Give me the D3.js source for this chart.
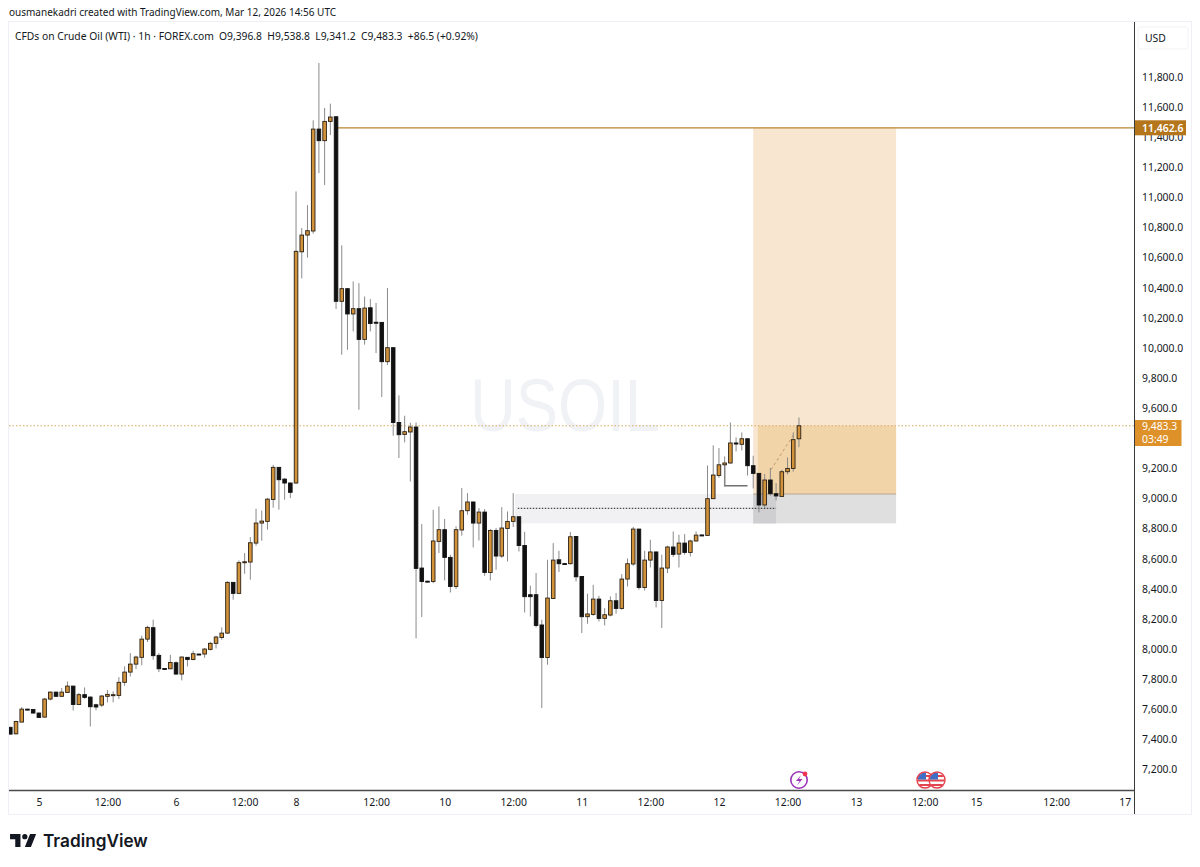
<!DOCTYPE html>
<html><head><meta charset="utf-8">
<script src="https://cdn.jsdelivr.net/npm/d3@7/dist/d3.min.js"></script>
<style>
html,body{margin:0;padding:0;background:#fff}
svg{display:block}
text{font-family:"Noto Sans","Open Sans",sans-serif;fill:#131722}
</style></head><body>
<svg id="c" width="1200" height="867"></svg>
<script>
const opens=[7480,7437,7515,7601,7599,7575,7548,7668,7714,7686,7712,7754,7632,7697,7681,7630,7628,7686,7695,7692,7779,7847,7900,7945,8066,8142,7958,7871,7869,7909,7834,7945,7931,7967,7967,7998,8038,8077,8106,8443,8370,8576,8578,8704,8837,8848,8994,9207,9129,9103,9103,10639,10750,10777,11454,11377,11505,11536,10310,10394,10226,10261,10057,10267,10171,10170,9909,10002,9505,9426,9442,9475,8538,8451,8449,8715,8793,8609,8416,8791,8919,8977,8837,8910,8509,8788,8618,8801,8848,8879,8688,8361,8361,8160,7944,8336,8593,8568,8567,8748,8482,8215,8230,8332,8204,8226,8321,8270,8465,8565,8797,8409,8591,8645,8323,8538,8678,8631,8704,8642,8718,8758,8755,8999,9153,9224,9236,9369,9360,9397,9218,9167,8957,9123,9032,9014,9178,9200,9396.8];
const highs=[7485,7524,7615,7603,7601,7579,7675,7719,7716,7741,7785,7756,7708,7745,7686,7637,7695,7728,7719,7814,7885,7973,7956,8089,8155,8195,7973,7873,7962,7918,7951,7947,7989,7969,8007,8049,8089,8144,8450,8445,8589,8638,8744,8932,8921,9003,9224,9209,9136,9107,11040,10797,10949,11512,11893,11594,11623,11538,10682,10396,10442,10431,10342,10325,10299,10172,10398,10004,9685,9550,9503,9505,8830,8453,8925,8947,8864,8627,8815,9070,9036,8979,8937,8930,8797,8804,8943,8914,9036,8881,8779,8421,8505,8195,8593,8704,8653,8570,8777,8750,8484,8368,8427,8354,8272,8350,8372,8498,8602,8811,8799,8653,8726,8647,8627,8686,8781,8759,8764,8726,8781,8760,9220,9353,9335,9280,9505,9406,9439,9399,9284,9169,9163,9203,9103,9191,9273,9439,9538.8];
const lows=[7435,7433,7515,7597,7573,7542,7544,7659,7684,7683,7710,7592,7630,7670,7486,7593,7615,7646,7646,7668,7756,7818,7867,7892,8047,7929,7847,7867,7867,7829,7792,7885,7925,7963,7942,7991,8004,8062,8102,8328,8365,8500,8461,8686,8720,8793,8939,8926,8992,9003,9098,10462,10600,10759,11162,11082,11414,10259,9955,9988,10110,9590,10022,10110,9966,9674,9887,9417,9269,9373,9113,8071,8213,8447,8438,8638,8456,8376,8399,8753,8892,8675,8721,8487,8456,8527,8605,8582,8811,8648,8243,8217,8144,7608,7896,8332,8512,8564,8563,8449,8106,8168,8221,8183,8157,8217,8235,8261,8416,8553,8394,8389,8542,8276,8140,8505,8611,8542,8627,8615,8713,8754,8753,8997,9138,9080,9231,9313,9319,9153,9067,8908,8937,9019,8987,9012,9160,9178,9341.2];
const closes=[7435,7519,7601,7599,7575,7546,7668,7714,7686,7714,7754,7632,7697,7679,7617,7615,7688,7699,7697,7779,7847,7900,7947,8066,8144,7956,7869,7869,7911,7834,7947,7931,7969,7965,8000,8038,8080,8106,8443,8370,8574,8580,8706,8837,8850,8996,9207,9125,9103,9041,10642,10750,10779,11454,11377,11505,11534,10310,10394,10226,10261,10057,10265,10163,10168,9909,10002,9505,9424,9444,9475,8536,8449,8449,8718,8793,8609,8416,8793,8919,8977,8837,8910,8509,8788,8618,8804,8848,8879,8688,8348,8348,8157,7944,8339,8591,8567,8566,8746,8480,8215,8233,8332,8203,8228,8321,8270,8465,8567,8797,8409,8591,8645,8323,8538,8678,8629,8704,8642,8718,8757,8756,8999,9156,9224,9236,9369,9362,9397,9218,9167,8957,9123,9032,9017,9178,9200,9391,9483.3];

const priceTicks=[7200,7400,7600,7800,8000,8200,8400,8600,8800,9000,9200,9600,9800,10000,10200,10400,10600,10800,11000,11200,11400,11600,11800];
const timeTickIndex=[5,17,29,41,50,64,76,88,100,112,124,136,148,160,169,183,195];
const timeTickLabels=["5","12:00","6","12:00","8","12:00","10","12:00","11","12:00","12","12:00","13","12:00","15","12:00","17"];

const titleText="ousmanekadri created with TradingView.com, Mar 12, 2026 14:56 UTC";
const legendText="CFDs on Crude Oil (WTI) · 1h · FOREX.com";
const legendValues="O9,396.8  H9,538.8  L9,341.2  C9,483.3  +86.5 (+0.92%)";
const targetPrice=11462.6, lastPrice=9483.3, countdown="03:49";
const entryPrice=9030;
const zonePriceTop=9030, zonePriceBottom=8835, zoneMid=8935, markPrice=9085;

const svg=d3.select("#c");
const x=d3.scaleLinear().domain([0,195]).range([10.3,1124.7]);
const y=d3.scaleLinear().domain([7200,11800]).range([769.5,77]);
const fmt=d3.format(",.1f");
const UP="#d2923a",DN="#111111",EDGE="#2a2116",WICK="#8a8a8a";
const TICK="10.4px";

svg.append("rect").attr("x",8.5).attr("y",21.5).attr("width",1183).attr("height",793).attr("fill","#fff").attr("stroke","#eef0f5");
svg.append("clipPath").attr("id","pane").append("rect").attr("x",9).attr("y",22).attr("width",1125).attr("height",768);
const pane=svg.append("g").attr("clip-path","url(#pane)");

pane.append("text").attr("x",470).attr("y",431).attr("textLength",190).attr("lengthAdjust","spacingAndGlyphs")
 .style("font-family","'Liberation Sans',sans-serif").style("font-size","74px").style("fill","#f0f2f5").text("USOIL");

function band(g,i0,i1,p0,p1,c){g.append("rect").attr("x",x(i0)).attr("width",x(i1)-x(i0)).attr("y",y(p0)).attr("height",y(p1)-y(p0)).attr("fill",c);}
band(pane,88.3,134,zonePriceTop,zonePriceBottom,"#f1f1f3");
band(pane,130,155,targetPrice,entryPrice,"#f8e6d0");
band(pane,130.8,155,lastPrice,entryPrice,"#f2d4a9");
band(pane,130,155,entryPrice,zonePriceBottom,"#dfdfe0");
band(pane,130,134,entryPrice,zonePriceBottom,"#cfcfd1");
pane.append("line").attr("x1",x(130)).attr("x2",x(155)).attr("y1",y(entryPrice)).attr("y2",y(entryPrice)).attr("stroke","#b9a58c");
pane.append("line").attr("x1",x(88.8)).attr("x2",x(134)).attr("y1",y(zoneMid)).attr("y2",y(zoneMid)).attr("stroke","#222").attr("stroke-dasharray","1.5 1.5");

pane.append("line").attr("x1",x(57)).attr("x2",1134).attr("y1",y(targetPrice)).attr("y2",y(targetPrice)).attr("stroke","#b8862e").attr("stroke-width",1.2);
pane.append("line").attr("x1",9).attr("x2",1134).attr("y1",y(lastPrice)).attr("y2",y(lastPrice)).attr("stroke","#d8a860").attr("stroke-dasharray","1.5 2");

pane.append("line").attr("x1",x(133.1)).attr("y1",y(9191)).attr("x2",x(137.3)).attr("y2",y(9437)).attr("stroke","#c39a6a").attr("stroke-dasharray","3 2.5");
const mark=d3.line().x(d=>x(d[0])).y(d=>y(d[1]));
pane.append("path").attr("d",mark([[125,9236],[125,markPrice],[129,markPrice]])).attr("fill","none").attr("stroke","#707070").attr("stroke-width",1.4);

const bars=d3.range(opens.length);
pane.append("g").selectAll("line").data(bars).join("line")
 .attr("x1",i=>x(i)).attr("x2",i=>x(i)).attr("y1",i=>y(highs[i])).attr("y2",i=>y(lows[i])).attr("stroke",WICK).attr("stroke-width",1);
pane.append("g").selectAll("rect").data(bars).join("rect")
 .attr("x",i=>x(i)-1.8).attr("width",3.6)
 .attr("y",i=>y(Math.max(opens[i],closes[i])))
 .attr("height",i=>Math.max(1,Math.abs(y(opens[i])-y(closes[i]))))
 .attr("fill",i=>closes[i]>=opens[i]?UP:DN)
 .attr("stroke",i=>closes[i]>=opens[i]?EDGE:DN).attr("stroke-width",.9);

const yAxis=d3.axisRight(y).tickValues(priceTicks).tickFormat(fmt).tickSize(0).tickPadding(7.5);
const gy=svg.append("g").attr("transform","translate(1134.5,0)").call(yAxis);
gy.select(".domain").remove();
gy.selectAll("text").style("font-size",TICK).style("fill","#131722");
const labelOf=d3.scaleOrdinal().domain(timeTickIndex).range(timeTickLabels);
const xAxis=d3.axisBottom(x).tickValues(timeTickIndex).tickFormat(d=>labelOf(d)).tickSize(0).tickPadding(8);
const gx=svg.append("g").attr("transform","translate(0,790.5)").call(xAxis);
gx.select(".domain").remove();
gx.selectAll("text").style("font-size",TICK).style("fill","#131722");
svg.append("line").attr("x1",1134.5).attr("x2",1134.5).attr("y1",22).attr("y2",814).attr("stroke","#3a3a3a");
svg.append("line").attr("x1",9).attr("x2",1134.5).attr("y1",790.5).attr("y2",790.5).attr("stroke","#4a4a4a").attr("stroke-width",1.3);

svg.append("rect").attr("x",1138).attr("y",27).attr("width",50).attr("height",22).attr("rx",3).attr("fill","#fff").attr("stroke","#f2f3f6");
svg.append("text").attr("x",1145).attr("y",42).style("font-size",TICK).text("USD");

svg.append("rect").attr("x",1135).attr("y",y(targetPrice)-7.5).attr("width",51).attr("height",15).attr("fill","#b5761b");
svg.append("text").attr("x",1142).attr("y",y(targetPrice)+4).style("font-size",TICK).style("font-weight","600").style("fill","#fff").text(fmt(targetPrice));
svg.append("rect").attr("x",1135).attr("y",420).attr("width",46.5).attr("height",26).attr("fill","#dd9128");
svg.append("text").attr("x",1142).attr("y",430).style("font-size",TICK).style("fill","#fff").text(fmt(lastPrice));
svg.append("text").attr("x",1142).attr("y",443).style("font-size",TICK).style("fill","#fff").text(countdown);

svg.append("text").attr("x",9).attr("y",16).style("font-size","10px").text(titleText);
svg.append("text").attr("x",15).attr("y",40).style("font-size","10.3px").text(legendText);
svg.append("text").attr("x",219).attr("y",40).style("font-size","10.3px").style("white-space","pre").text(legendValues);

const ev=svg.append("g");
ev.append("circle").attr("cx",799).attr("cy",780).attr("r",8.2).attr("fill","#fff").attr("stroke","#9c34b8").attr("stroke-width",1.6);
ev.append("path").attr("d","M801 775 L796 781 L799.5 781 L797 785.5 L802.5 779 L799 779 Z").attr("fill","#9c34b8");
ev.append("circle").attr("cx",805).attr("cy",774).attr("r",2.4).attr("fill","#ef3355");
[925,937].forEach(cx=>{
 const g=ev.append("g");
 g.append("clipPath").attr("id","f"+cx).append("circle").attr("cx",cx).attr("cy",780).attr("r",7.5);
 const f=g.append("g").attr("clip-path",`url(#f${cx})`);
 f.append("rect").attr("x",cx-8).attr("y",772).attr("width",16).attr("height",16).attr("fill","#fff");
 [775,779.5,784].forEach(sy=>f.append("rect").attr("x",cx-8).attr("y",sy).attr("width",16).attr("height",2).attr("fill","#e2454f"));
 f.append("rect").attr("x",cx-8).attr("y",772).attr("width",9).attr("height",7.5).attr("fill","#3f6fc4");
 g.append("circle").attr("cx",cx).attr("cy",780).attr("r",8).attr("fill","none").attr("stroke","#e5404e").attr("stroke-width",1.4);
});

const logo=svg.append("g").attr("transform","translate(8.3,828.8) scale(0.87)");
logo.append("path").attr("d","M14 6H2v6h6v9h6V6Zm12 15h-7l6-15h7l-6 15Zm-7-9a3 3 0 1 0 0-6 3 3 0 0 0 0 6Z").attr("fill","#131722");
svg.append("text").attr("x",43).attr("y",847).style("font-family","Inter,'Noto Sans',sans-serif").style("font-size","17.2px").style("font-weight","600").text("TradingView");
</script></body></html>
